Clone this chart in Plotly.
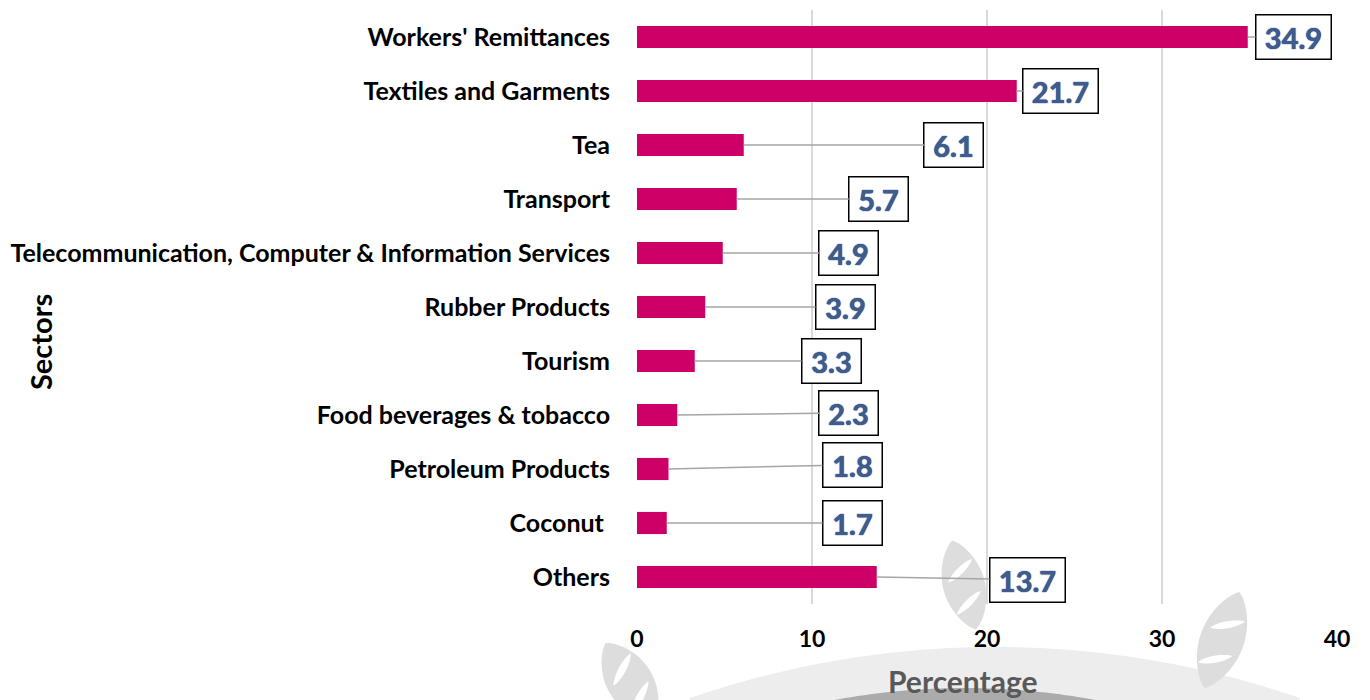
import math
import plotly.graph_objects as go

# ---- data ----
sectors = ["Workers' Remittances", "Textiles and Garments", "Tea", "Transport",
           "Telecommunication, Computer & Information Services", "Rubber Products",
           "Tourism", "Food beverages & tobacco", "Petroleum Products", "Coconut\u00a0", "Others"]
shares = [34.9, 21.7, 6.1, 5.7, 4.9, 3.9, 3.3, 2.3, 1.8, 1.7, 13.7]
x_ticks = [0, 10, 20, 30, 40]

# ---- label placement (layout only) ----
label_x = [37.5, 24.2, 18.1, 13.8, 12.1, 11.9, 11.1, 12.1, 12.3, 12.3, 22.3]
label_dy = [0, 0, 0, 0, 0, 0, 0, -0.04, -0.08, 0, 0.05]

FONT = "Lato"
PAGE = 8                      # default body margin of the html page
W, H = 1370 - PAGE, 700 - PAGE
SX0, SX1, SY0, SY1 = 637, 1337, 10, 604   # plot area in screen pixels
L, T = SX0 - PAGE, SY0 - PAGE
R = W - (SX1 - PAGE)
B = H - (SY1 - PAGE)
PW, PH = SX1 - SX0, SY1 - SY0


def px2paper(px, py):
    return (px - SX0) / PW, (SY1 - py) / PH


def path_from_px(points):
    pts = [px2paper(x, y) for x, y in points]
    s = "M %.5f %.5f " % pts[0]
    s += " ".join("L %.5f %.5f" % p for p in pts[1:])
    return s + " Z"


def leaf_points(cx, cy, length, width, angle_deg, n=40):
    a = math.radians(angle_deg)
    pts = []
    for i in range(n + 1):
        t = -1 + 2 * i / n
        pts.append((t * length / 2, (1 - t * t) ** 0.8 * width / 2))
    for i in range(n + 1):
        t = 1 - 2 * i / n
        pts.append((t * length / 2, -(1 - t * t) ** 0.8 * width / 2))
    out = []
    for x, y in pts:
        out.append((cx + x * math.cos(a) - y * math.sin(a), cy + x * math.sin(a) + y * math.cos(a)))
    return out


def arc_points(cx, cy, r, x0, x1, ybottom, n=80):
    pts = []
    for i in range(n + 1):
        x = x0 + (x1 - x0) * i / n
        dy = math.sqrt(max(r * r - (x - cx) ** 2, 0))
        pts.append((x, cy - dy))
    pts.append((x1, ybottom))
    pts.append((x0, ybottom))
    return pts


shapes = []
GRAY = "#DDDDDD"
# bottom arc watermark
shapes.append(dict(type="path", xref="paper", yref="paper", layer="below",
                   path=path_from_px(arc_points(995, 1583, 936, 690, 1300, 705)),
                   fillcolor="#EDEDED", line=dict(width=0)))
shapes.append(dict(type="path", xref="paper", yref="paper", layer="below",
                   path=path_from_px(arc_points(965, 1400, 712, 800, 1130, 705)),
                   fillcolor="#ABABAB", line=dict(width=0)))
# leaves
for (cx, cy, ln, wd, ang) in [(964, 585, 92, 42, 75), (1222, 640, 102, 44, 110), (630, 682, 92, 46, 58)]:
    shapes.append(dict(type="path", xref="paper", yref="paper", layer="below",
                       path=path_from_px(leaf_points(cx, cy, ln, wd, ang)),
                       fillcolor=GRAY, line=dict(width=0)))
    a = math.radians(ang)
    for off in (-0.16, 0.2):
        ccx = cx + off * ln * math.cos(a)
        ccy = cy + off * ln * math.sin(a)
        shapes.append(dict(type="path", xref="paper", yref="paper", layer="below",
                           path=path_from_px(leaf_points(ccx, ccy, wd * 0.8, wd * 0.16, ang + 60, 20)),
                           fillcolor="white", line=dict(width=0)))

fig = go.Figure()
fig.add_trace(go.Bar(
    x=shares, y=sectors, orientation="h",
    marker=dict(color="#CC0066", line=dict(width=0)),
    hoverinfo="x+y",
))

annotations = []
for i, (v, lx, dy) in enumerate(zip(shares, label_x, label_dy)):
    txt = "%.1f" % v
    annotations.append(dict(
        x=v, y=i, xref="x", yref="y",
        ax=lx, ay=i + dy, axref="x", ayref="y",
        text="<b>%s</b>" % txt,
        showarrow=True, arrowhead=0, arrowwidth=1.5, arrowcolor="#A6A6A6",
        standoff=0, startstandoff=0,
        width=16 * len(txt) + 2, height=35,
        font=dict(family=FONT, size=29, color="#3F5C8F",
                  shadow="0 0 1px #2E3A50, 0 0 1px #4472C4"),
        bgcolor="white", bordercolor="black", borderwidth=1.5, borderpad=4,
    ))

ax_x, ax_y = px2paper(963, 681)
annotations.append(dict(x=ax_x, y=ax_y, xref="paper", yref="paper", showarrow=False,
                        xanchor="center", yanchor="middle",
                        text="<b>Percentage</b>",
                        font=dict(family=FONT, size=30, color="#595959")))
sx, sy = px2paper(40, 342)
annotations.append(dict(x=sx, y=sy, xref="paper", yref="paper", showarrow=False,
                        xanchor="center", yanchor="middle",
                        text="<b>Sectors</b>", textangle=-90,
                        font=dict(family=FONT, size=29, color="black")))

fig.update_layout(
    width=W, height=H,
    margin=dict(l=L, r=R, t=T, b=B, pad=0),
    paper_bgcolor="white", plot_bgcolor="rgba(0,0,0,0)",
    bargap=0.59,
    showlegend=False,
    shapes=shapes,
    annotations=annotations,
    xaxis=dict(range=[0, 40], tickvals=x_ticks, showgrid=True, gridcolor="#D9D9D9", gridwidth=2,
               zeroline=False, showline=False, ticks="",
               tickfont=dict(family=FONT, size=23, color="black", weight="bold"),
               ticklabelstandoff=19, fixedrange=True),
    yaxis=dict(categoryorder="array", categoryarray=sectors, autorange="reversed",
               showgrid=False, zeroline=False, showline=False, ticks="",
               tickfont=dict(family=FONT, size=25, color="black", weight="bold"),
               ticklabelstandoff=26, fixedrange=True),
)

fig.write_html("out.html")
